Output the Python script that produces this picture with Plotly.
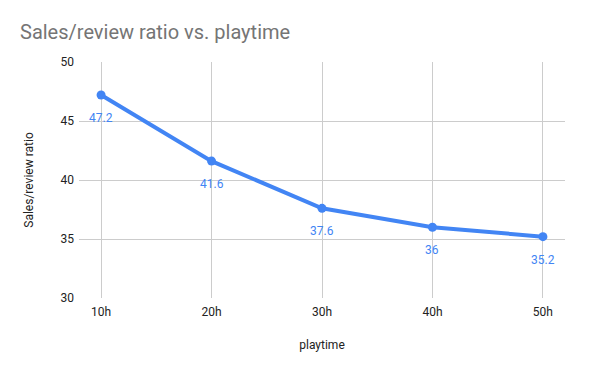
import plotly.graph_objects as go

categories = ["10h", "20h", "30h", "40h", "50h"]
ratio = [47.2, 41.6, 37.6, 36, 35.2]
labels = ["47.2", "41.6", "37.6", "36", "35.2"]
title_text = "Sales/review ratio vs. playtime"

blue = "#4285F4"

fig = go.Figure(go.Scatter(
    x=categories, y=ratio, mode="lines+markers",
    line=dict(color=blue, width=4),
    marker=dict(color=blue, size=9),
    cliponaxis=False,
    showlegend=False,
))

for c, v, t in zip(categories, ratio, labels):
    fig.add_annotation(x=c, y=v, text=t, showarrow=False, yshift=-23,
                       font=dict(family="Roboto", size=12, color=blue))

fig.add_annotation(text=title_text, xref="paper", yref="paper",
                   x=-0.1255, y=1.127, xanchor="left", yanchor="middle",
                   showarrow=False,
                   font=dict(family="Roboto", size=20, color="#757575"))

fig.update_layout(
    width=592, height=363,
    paper_bgcolor="white", plot_bgcolor="white",
    margin=dict(l=71, r=35, t=54, b=73),
    font=dict(family="Roboto", size=12, color="#222222"),
    xaxis=dict(type="category", range=[-0.2, 4.2], showgrid=True, gridcolor="#cccccc",
               gridwidth=1, zeroline=False, showline=False, ticks="", automargin=False,
               ticklabelstandoff=5,
               title=dict(text="playtime", standoff=22, font=dict(size=12, color="#222222"))),
    yaxis=dict(range=[30, 50], dtick=5, showgrid=True, gridcolor="#cccccc",
               zeroline=False, showline=False, ticks="", automargin=False,
               ticklabelstandoff=4,
               title=dict(text="Sales/review ratio", standoff=24, font=dict(size=12, color="#222222"))),
)

fig.write_html("out.html")
